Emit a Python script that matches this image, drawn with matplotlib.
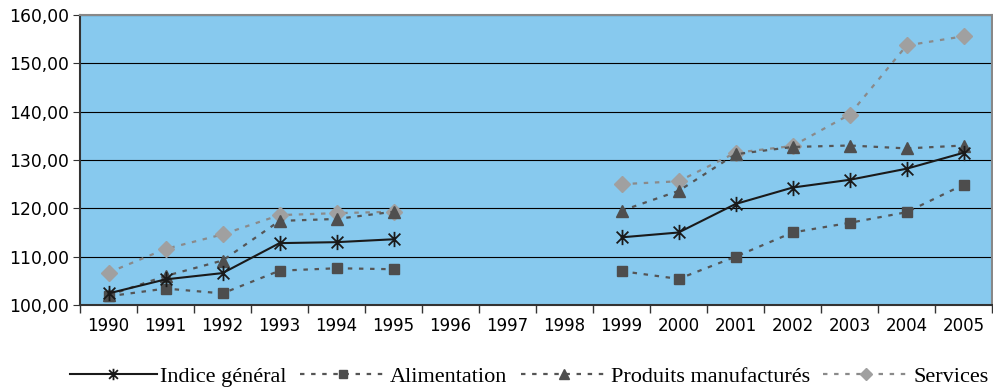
import numpy as np
import matplotlib
matplotlib.use("Agg")
import matplotlib.pyplot as plt
from matplotlib.path import Path
from matplotlib.ticker import FuncFormatter, MultipleLocator

years = [str(y) for y in range(1990, 2006)]
nan = np.nan

indice_general = [102.4, 105.3, 106.6, 112.8, 113.0, 113.6, nan, nan, nan,
                  114.0, 115.0, 120.9, 124.3, 125.9, 128.2, 131.5]
alimentation = [101.8, 103.4, 102.4, 107.1, 107.6, 107.4, nan, nan, nan,
                107.0, 105.4, 110.0, 115.0, 117.0, 119.2, 124.9]
produits_manufactures = [102.0, 106.0, 109.2, 117.4, 117.8, 119.3, nan, nan, nan,
                         119.5, 123.6, 131.2, 132.7, 133.0, 132.4, 133.0]
services = [106.7, 111.6, 114.6, 118.6, 119.0, 119.3, nan, nan, nan,
            125.0, 125.6, 131.5, 132.9, 139.4, 153.7, 155.6]

# asterisk marker: an X crossed by a vertical bar
star = Path([(-1, -1), (1, 1), (-1, 1), (1, -1), (0, -1.3), (0, 1.3)],
            [Path.MOVETO, Path.LINETO, Path.MOVETO, Path.LINETO, Path.MOVETO, Path.LINETO])

fig = plt.figure(figsize=(9.93, 3.87), dpi=100)
ax = fig.add_axes([0.0806, 0.2119, 0.9185, 0.7493])
ax.set_facecolor("#87C9EE")

x = np.arange(len(years))
dots = (0, (2, 3))
ax.plot(x, indice_general, color="#1a1a1a", lw=1.5, marker=star, ms=11,
        mec="#1a1a1a", mfc="none", mew=1.3, label="Indice général", zorder=5)
ax.plot(x, alimentation, color="#555555", lw=1.6, ls=dots, marker="s", ms=7.5,
        mfc="#4d4d4d", mec="#4d4d4d", label="Alimentation", zorder=4)
ax.plot(x, produits_manufactures, color="#555555", lw=1.6, ls=dots, marker="^", ms=9,
        mfc="#4f4f4f", mec="#4f4f4f", label="Produits manufacturés", zorder=3)
ax.plot(x, services, color="#8a8a8a", lw=1.6, ls=dots, marker="D", ms=8,
        mfc="#a0a0a0", mec="#a0a0a0", label="Services", zorder=2)

ax.set_xlim(-0.5, len(years) - 0.5)
ax.set_ylim(100, 160)
ax.yaxis.set_major_locator(MultipleLocator(10))
ax.yaxis.set_major_formatter(FuncFormatter(lambda v, p: f"{v:.2f}".replace(".", ",")))
ax.grid(axis="y", color="black", lw=0.8)
ax.set_axisbelow(True)

ax.set_xticks(x)
ax.set_xticklabels(years)
ax.set_xticks(np.arange(len(years) + 1) - 0.5, minor=True)
ax.tick_params(axis="x", which="major", length=0, pad=9, labelsize=12)
ax.tick_params(axis="x", which="minor", length=6, color="#333333", width=1)
ax.tick_params(axis="y", length=5, color="#333333", labelsize=12.3, pad=3)

for s in ("left", "bottom"):
    ax.spines[s].set_color("#333333")
    ax.spines[s].set_linewidth(1.5)
for s in ("top", "right"):
    ax.spines[s].set_color("#888888")
    ax.spines[s].set_linewidth(1.5)

fig.legend(loc="center", bbox_to_anchor=(0.533, 0.027), ncol=4, frameon=False,
           prop={"family": "Liberation Serif", "size": 16}, handlelength=3.9,
           handletextpad=0.15, columnspacing=0.6, markerscale=0.75)

fig.savefig("out.png", dpi=100)
